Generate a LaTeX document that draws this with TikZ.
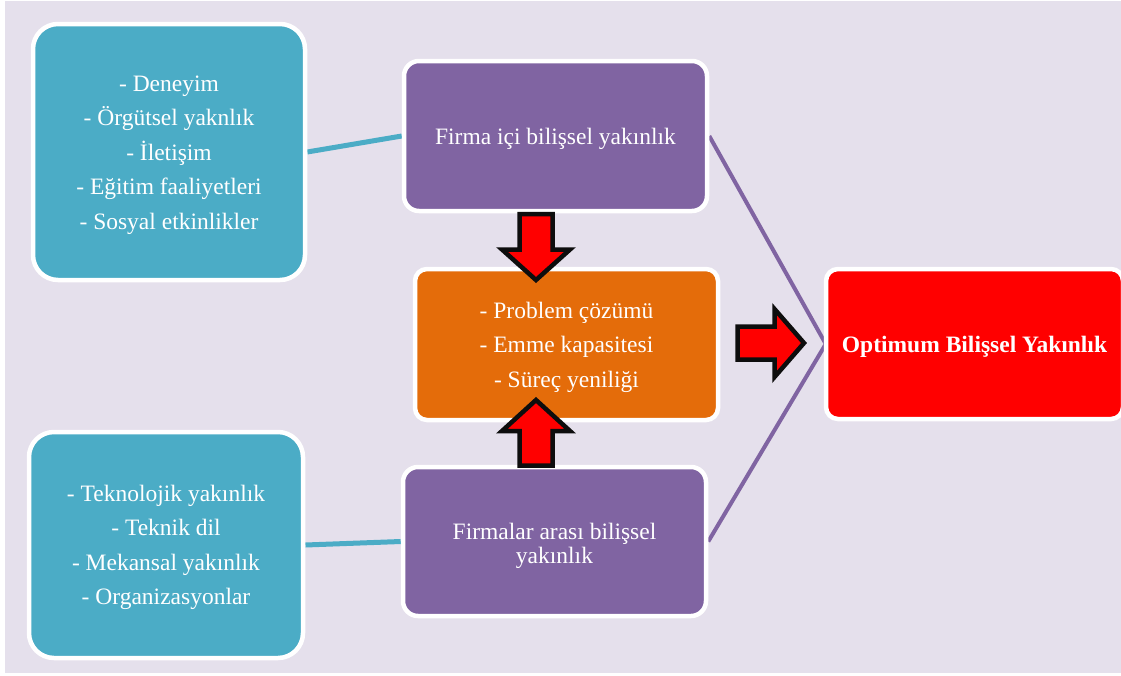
\documentclass[tikz,border=0pt]{standalone}
\usepackage{fontspec}
\setmainfont{Liberation Serif}
\usetikzlibrary{backgrounds}
\definecolor{bgpaper}{HTML}{E5E0EC}
\definecolor{tealbox}{HTML}{4BACC6}
\definecolor{violetbox}{HTML}{8064A2}
\definecolor{orangebox}{HTML}{E46C0A}
\definecolor{redbox}{HTML}{FF0000}
\tikzset{
  cardtext/.style={text=white, align=center, inner sep=0pt,
    font=\fontsize{23.5}{34.5}\selectfont},
  card/.style={cardtext, draw=white, line width=4.5pt, text depth=0pt},
  tealcard/.style={card, fill=tealbox, rounded corners=25pt},
  violetcard/.style={card, fill=violetbox, rounded corners=15pt},
  orangecard/.style={card, fill=orangebox, rounded corners=12pt},
  redcard/.style={card, fill=redbox, rounded corners=12pt},
  tealwire/.style={draw=tealbox, line width=5pt},
  violetwire/.style={draw=violetbox, line width=4pt},
  blockarrow/.style={fill=redbox, draw=black!95, line width=4.5pt, miter limit=10},
}
\begin{document}
\begin{tikzpicture}[x=1pt, y=-1pt]
  \useasboundingbox (0,0) rectangle (1121,675);
  \clip (0,0) rectangle (1121,675);

  % boxes
  \node[tealcard, minimum width=272pt, minimum height=256pt,
    label={[cardtext, yshift=-3pt]center:{- Deneyim\\- Örgütsel yaknlık\\- İletişim\\- Eğitim faaliyetleri\\- Sosyal etkinlikler}}]
    (exp) at (169,152) {};
  \node[tealcard, minimum width=274pt, minimum height=226pt] (tech) at (166,545)
    {- Teknolojik yakınlık\\- Teknik dil\\- Mekansal yakınlık\\- Organizasyonlar};
  \node[violetcard, minimum width=303pt, minimum height=150pt] (inner) at (555.5,136)
    {Firma içi bilişsel yakınlık};
  \node[violetcard, minimum width=303pt, minimum height=149pt,
    label={[cardtext, yshift=-4pt, font=\fontsize{23.5}{24}\selectfont]center:{Firmalar arası bilişsel\\yakınlık}}]
    (inter) at (554.5,541.5) {};
  \node[orangecard, minimum width=303pt, minimum height=151pt] (core) at (566.5,344.5)
    {- Problem çözümü\\- Emme kapasitesi\\- Süreç yeniliği};
  \node[redcard, minimum width=297pt, minimum height=150pt] (goal) at (974.5,344)
    {\bfseries Optimum Bilişsel Yakınlık};

  % page and connectors, kept behind the boxes
  \begin{scope}[on background layer]
    \fill[white] (0,0) rectangle (1121,675);
    \fill[bgpaper] (5,1) rectangle (1121,673);
    \draw[tealwire] (exp.east) -- (inner.west);
    \draw[tealwire] (tech.east) -- (inter.west);
    \draw[violetwire, line join=miter] (inner.east) -- ([xshift=2pt]goal.west) -- (inter.east);
  \end{scope}

  % block arrows
  \draw[blockarrow] (519.5,214) -- (552.5,214) -- (552.5,249.5) -- (570,249.5)
    -- (536,280) -- (502,249.5) -- (519.5,249.5) -- cycle;
  \draw[blockarrow] (519.5,465.5) -- (552.5,465.5) -- (552.5,431) -- (570,431)
    -- (536,400) -- (502,431) -- (519.5,431) -- cycle;
  \draw[blockarrow] (737.5,326.5) -- (774.5,326.5) -- (774.5,309) -- (804,343)
    -- (774.5,377) -- (774.5,359.5) -- (737.5,359.5) -- cycle;
\end{tikzpicture}
\end{document}
